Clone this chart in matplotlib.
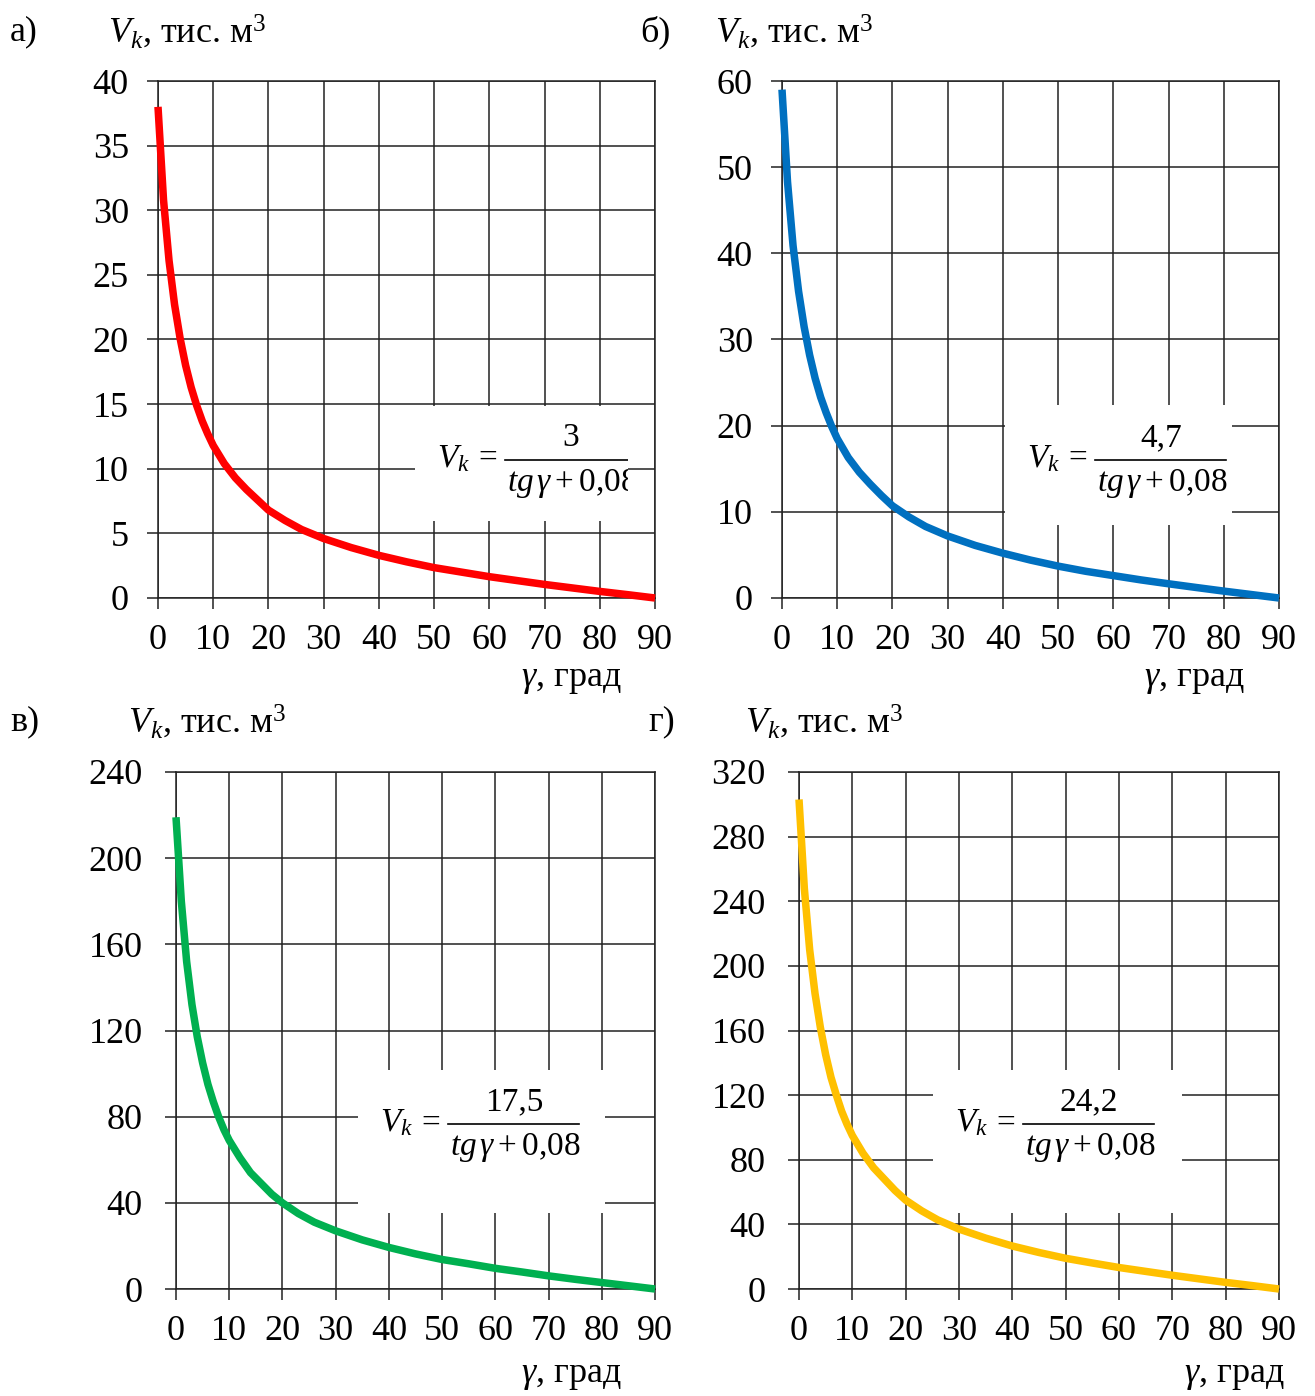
import matplotlib
matplotlib.use("Agg")
import matplotlib.pyplot as plt
from matplotlib.lines import Line2D

plt.rcParams['font.family'] = ['Liberation Serif', 'DejaVu Serif']
plt.rcParams['mathtext.fontset'] = 'custom'
plt.rcParams['mathtext.rm'] = 'Liberation Serif'
plt.rcParams['mathtext.it'] = 'Liberation Serif:italic'
plt.rcParams['mathtext.default'] = 'it'

W, H = 1315, 1396

# angle of the slope, degrees
gamma = [0, 1, 2, 3, 4, 5, 6, 7, 8, 9, 10, 12, 14, 16, 18, 20, 23, 26, 30,
         35, 40, 45, 50, 55, 60, 65, 70, 75, 80, 85, 90]

# volume, thousand m3
vol_a = [38, 30.8, 26.1, 22.7, 20.1, 18.0, 16.3, 14.9, 13.7, 12.7, 11.8, 10.4,
         9.3, 8.4, 7.6, 6.8, 6.0, 5.3, 4.6, 3.9, 3.3, 2.8, 2.35, 2.0, 1.65,
         1.35, 1.05, 0.78, 0.51, 0.26, 0]
vol_b = [59, 48.3, 40.9, 35.6, 31.5, 28.2, 25.5, 23.3, 21.5, 19.9, 18.5, 16.3,
         14.6, 13.2, 11.9, 10.7, 9.4, 8.3, 7.2, 6.1, 5.2, 4.4, 3.7, 3.1, 2.6,
         2.1, 1.65, 1.22, 0.8, 0.4, 0]
vol_c = [219, 180, 152, 132, 117, 105, 95, 87, 80, 74, 69, 61, 54, 49, 44, 40,
         35, 31, 27, 22.8, 19.3, 16.3, 13.7, 11.7, 9.6, 7.9, 6.1, 4.5, 3.0,
         1.5, 0]
vol_d = [303, 248, 210, 183, 162, 145, 131, 120, 110, 102, 95, 84, 75, 68, 61,
         55, 48.4, 42.8, 37.1, 31.5, 26.6, 22.6, 19.0, 16.1, 13.3, 10.9, 8.5,
         6.3, 4.1, 2.1, 0]

x_ticks = list(range(0, 91, 10))
y_ticks_a = list(range(0, 41, 5))
y_ticks_b = list(range(0, 61, 10))
y_ticks_c = list(range(0, 241, 40))
y_ticks_d = list(range(0, 321, 40))

numerators = ['3', '4,7', '17,5', '24,2']
letters = ['а)', 'б)', 'в)', 'г)']
colors = ['#ff0000', '#0070c0', '#00b050', '#ffc000']


def fx(x):
    return x / W


def fy(y):
    return 1 - y / H


fig = plt.figure(figsize=(W / 100, H / 100), dpi=100)
fig.patch.set_facecolor('white')

# panel geometry in pixels: left, top, right, bottom of plot area
panels = [
    dict(box=(158, 81, 655, 598), data=vol_a, yt=y_ticks_a, ypad=13,
         letter=(10, 32), title=(108, 32), xlab=(622, 680),
         fbox=(415, 406, 628, 521), fy0=460),
    dict(box=(782, 81, 1279, 598), data=vol_b, yt=y_ticks_b, ypad=13,
         letter=(640, 32), title=(715, 32), xlab=(1245, 680),
         fbox=(1005, 405, 1232, 525), fy0=460),
    dict(box=(176, 772, 655, 1289), data=vol_c, yt=y_ticks_c, ypad=16,
         letter=(10, 722), title=(128, 722), xlab=(622, 1376),
         fbox=(358, 1070, 605, 1213), fy0=1124),
    dict(box=(799, 772, 1279, 1289), data=vol_d, yt=y_ticks_d, ypad=16,
         letter=(648, 722), title=(745, 722), xlab=(1285, 1376),
         fbox=(933, 1070, 1182, 1213), fy0=1124),
]

for i, p in enumerate(panels):
    l, t, r, b = p['box']
    ax = fig.add_axes([fx(l), fy(b), fx(r) - fx(l), fy(t) - fy(b)])
    ax.plot(gamma, p['data'], color=colors[i], lw=5.4, solid_capstyle='butt',
            solid_joinstyle='round', zorder=3, clip_on=False)
    ax.set_xlim(0, 90)
    ax.set_ylim(p['yt'][0], p['yt'][-1])
    ax.set_xticks(x_ticks)
    ax.set_yticks(p['yt'])
    ax.grid(True, color='#222222', lw=1.1)
    for s in ax.spines.values():
        s.set_color('#222222')
        s.set_linewidth(1.1)
    ax.tick_params(axis='both', direction='out', length=8, width=1.1,
                   color='#222222', labelsize=26)
    ax.tick_params(axis='y', pad=p['ypad'])
    ax.tick_params(axis='x', pad=11)

    # headings and axis caption
    fig.text(fx(p['letter'][0]), fy(p['letter'][1]), letters[i],
             fontsize=26, va='center', ha='left')
    fig.text(fx(p['title'][0]), fy(p['title'][1]), r'$V_k$, тис. м$^\mathrm{3}$',
             fontsize=26, va='center', ha='left')
    fig.text(fx(p['xlab'][0]), fy(p['xlab'][1]), r'$\gamma$, град',
             fontsize=26, va='center', ha='right')

    # formula on a white box
    bl, bt, br, bb = p['fbox']
    fb = fig.add_axes([fx(bl), fy(bb), fx(br) - fx(bl), fy(bt) - fy(bb)])
    fb.set_facecolor('white')
    fb.set_xticks([])
    fb.set_yticks([])
    for s in fb.spines.values():
        s.set_visible(False)
    y0 = p['fy0']
    kw = dict(fontsize=24, clip_on=True, clip_box=fb.bbox)
    fig.text(fx(bl + 22), fy(y0 - 1), r'$V_{k}$', va='center', ha='left', **kw)
    fig.text(fx(bl + 73), fy(y0 - 1), '=', va='center', ha='center', **kw)
    fig.text(fx(bl + 156), fy(y0 - 22), numerators[i], va='center', ha='center', **kw)
    fig.text(fx(bl + 92), fy(y0 + 24), r'$tg\,\gamma + \mathrm{0{,}08}$',
             va='center', ha='left', **kw)
    ln = Line2D([fx(bl + 90), fx(bl + 221)], [fy(y0), fy(y0)],
                transform=fig.transFigure, color='black', lw=1.2)
    ln.set_clip_box(fb.bbox)
    fig.lines.append(ln)

fig.savefig('out.png', dpi=100, facecolor='white')
